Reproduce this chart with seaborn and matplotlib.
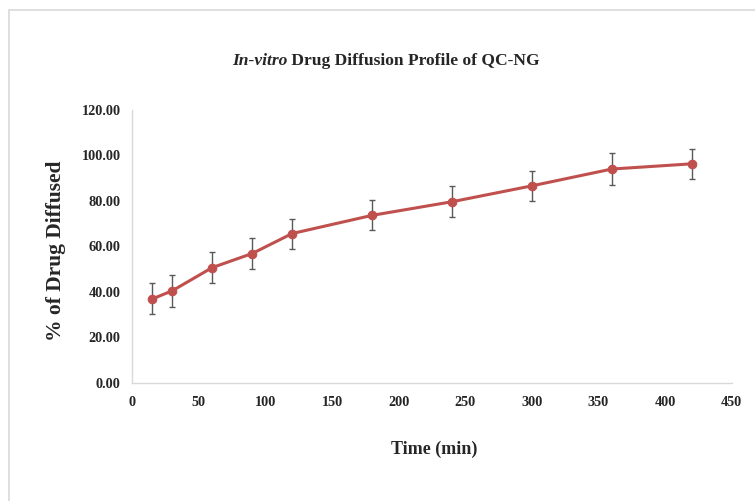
import matplotlib
matplotlib.use("Agg")
import matplotlib.pyplot as plt
import seaborn as sns
import pandas as pd
from matplotlib.patches import Rectangle

# ---- data ----
time_min = [15, 30, 60, 90, 120, 180, 240, 300, 360, 420]
drug_diffused = [36.8, 40.4, 50.6, 56.8, 65.6, 73.6, 79.6, 86.6, 94.0, 96.3]
error_sd = [6.8, 7.0, 6.8, 6.8, 6.6, 6.6, 6.9, 6.7, 6.9, 6.6]
x_ticks = [0, 50, 100, 150, 200, 250, 300, 350, 400, 450]
y_ticks = [0, 20, 40, 60, 80, 100, 120]

sns.set_theme(style="white")
plt.rcParams['font.family'] = ['Liberation Serif', 'DejaVu Serif']

df = pd.DataFrame({"Time (min)": time_min, "% of Drug Diffused": drug_diffused})

W, H = 755, 501
fig = plt.figure(figsize=(W / 100, H / 100), dpi=100)
ax = fig.add_axes([132.3 / W, 1 - 382.5 / H, (731.7 - 132.3) / W, (382.5 - 110) / H])

# border of the chart area
fig.patches.append(Rectangle((9 / W, -0.1), 1.2, 1 - 10 / H + 0.1, transform=fig.transFigure,
                             fill=False, edgecolor="#d9d9d9", linewidth=1.2, zorder=0))

red = "#c0504d"
ax.errorbar(time_min, drug_diffused, yerr=error_sd, fmt="none", ecolor="#595959",
            elinewidth=1.0, capsize=2.4, capthick=1.0, zorder=2)
sns.lineplot(data=df, x="Time (min)", y="% of Drug Diffused", ax=ax, color=red,
             linewidth=2.2, marker="o", markersize=6.2, markeredgecolor=red, zorder=3)

ax.set_xlim(0, 450)
ax.set_ylim(0, 120)
ax.set_xticks(x_ticks)
ax.set_yticks(y_ticks)
ax.set_xticklabels([str(v) for v in x_ticks], fontweight="bold", fontsize=10.3)
ax.set_yticklabels([f"{v:.2f}" for v in y_ticks], fontweight="bold", fontsize=10.3)
ax.tick_params(axis="x", length=0, pad=10)
ax.tick_params(axis="y", length=0, pad=8.5)

for s in ["top", "right"]:
    ax.spines[s].set_visible(False)
for s in ["left", "bottom"]:
    ax.spines[s].set_color("#d9d9d9")
    ax.spines[s].set_linewidth(1.0)

ax.set_xlabel("")
ax.set_ylabel("")
fig.text(433.7 / W, 1 - 449 / H, "Time (min)", ha="center", va="center",
         fontweight="bold", fontsize=13)
fig.text(56 / W, 1 - 251 / H, "% of Drug Diffused", ha="center", va="center",
         rotation=90, fontweight="bold", fontsize=15.5)

# title: italic "In-vitro" followed by bold rest
t1 = fig.text(232 / W, 1 - 61 / H, "In-vitro", ha="left", va="center",
              fontweight="bold", fontstyle="italic", fontsize=12.6)
ax.annotate(" Drug Diffusion Profile of QC-NG", xy=(1, 0), xycoords=t1,
            ha="left", va="bottom", fontweight="bold", fontsize=12.6,
            annotation_clip=False)

fig.savefig("out.png", dpi=100, facecolor="white")
